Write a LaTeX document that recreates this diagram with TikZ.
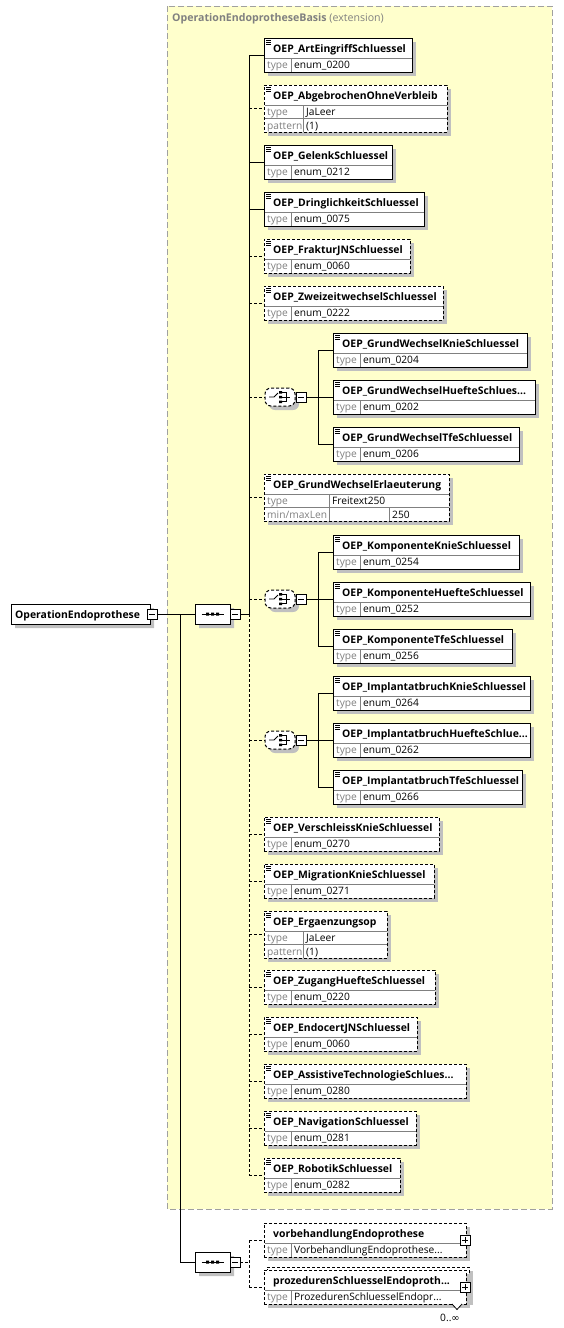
\documentclass[tikz,border=0pt]{standalone}
\usepackage{fontspec}
\setmainfont{Open Sans}
\newfontfamily\dvs{DejaVu Sans}
\usetikzlibrary{shapes.misc,shadows}
\definecolor{ylw}{HTML}{FFFFCC}
\definecolor{shd}{HTML}{C0C0C0}
\definecolor{lblc}{HTML}{808080}
\definecolor{frm}{HTML}{A0A0A0}
\newcommand\ttlfont{\fontsize{10.4}{13}\selectfont\bfseries}
\newcommand\valfont{\fontsize{10.2}{12}\selectfont}
\tikzset{
  shdw/.style={drop shadow={shadow xshift=4pt,shadow yshift=-4pt,fill=shd,opacity=1}},
  ebox/.style={draw,fill=white,line width=1pt,inner sep=0pt,outer sep=0pt,anchor=north west,shape=rectangle,shdw},
  optd/.style={dash pattern=on 3pt off 2pt},
  conn/.style={line width=1pt},
  optc/.style={line width=1pt,dash pattern=on 3pt off 2pt},
  sepl/.style={draw=lblc,line width=0.8pt},
  icn/.style={line width=0.7pt},
  ttl/.style={anchor=base west,inner sep=0pt,font=\ttlfont},
  lbl/.style={anchor=base west,inner sep=0pt,font=\valfont,text=lblc},
  vall/.style={anchor=base west,inner sep=0pt,font=\valfont},
  mbox/.style={draw,fill=white,line width=0.8pt,minimum size=10pt,inner sep=0pt,outer sep=0pt,shape=rectangle},
  chs/.style={draw,fill=white,line width=1pt,optd,shape=rectangle,rounded corners=6pt,minimum width=30pt,minimum height=18pt,inner sep=0pt,outer sep=0pt,shdw},
  seqs/.style={draw,fill=white,line width=1pt,shape=chamfered rectangle,chamfered rectangle xsep=4pt,chamfered rectangle ysep=4pt,minimum width=35pt,minimum height=20pt,inner sep=0pt,outer sep=0pt,shdw},
}
% #1 name #2 left #3 top #4 right #5 style #6 title #7 type #8 icon
\newcommand\elemtwo[8]{%
  \pgfmathsetmacro\ew{#4-#2}%
  \node[ebox,#5,minimum width=\ew pt,minimum height=34pt] (#1) at (#2,#3) {};
  \coordinate (#1-in) at (#2,#3+17);
  \draw[sepl] (#2+0.5,#3+20) -- (#4-0.5,#3+20) (#2+27,#3+20) -- (#2+27,#3+33.5);
  \node[ttl] at (#2+9,#3+14) {#6};
  \node[lbl] at (#2+3,#3+30.5) {type};
  \node[vall] at (#2+30,#3+30.5) {#7};
  \ifnum#8=1 \draw[icn] (#2+2,#3+2) -- (#2+7,#3+2) (#2+2,#3+4) -- (#2+7,#3+4) (#2+2,#3+6) -- (#2+7,#3+6);\fi
}
% #1 name #2 left #3 top #4 right #5 title #6 type #7 label2 #8 val2 #9 divx
\newcommand\elemthree[9]{%
  \pgfmathsetmacro\ew{#4-#2}%
  \node[ebox,optd,minimum width=\ew pt,minimum height=47pt] (#1) at (#2,#3) {};
  \coordinate (#1-in) at (#2,#3+23.5);
  \draw[sepl] (#2+0.5,#3+20) -- (#4-0.5,#3+20) (#2+0.5,#3+33.5) -- (#4-0.5,#3+33.5) (#2+#9,#3+20) -- (#2+#9,#3+46.5);
  \node[ttl] at (#2+9,#3+14) {#5};
  \node[lbl] at (#2+3,#3+30.5) {type};
  \node[vall] at (#2+#9+3,#3+30.5) {#6};
  \node[lbl] at (#2+3,#3+44) {#7};
  \node[vall] at (#2+#9+3,#3+44) {#8};
  \draw[icn] (#2+2,#3+2) -- (#2+7,#3+2) (#2+2,#3+4) -- (#2+7,#3+4) (#2+2,#3+6) -- (#2+7,#3+6);
}
% #1 name #2 left #3 center y
\newcommand\choicenode[3]{%
  \node[chs] (#1) at (#2+15,#3) {};
  \draw[icn,line width=0.9pt] ([xshift=-11pt]#1.center) -- ([xshift=-6pt]#1.center) -- ([xshift=-2pt,yshift=4pt]#1.center);
  \fill ([xshift=-1pt,yshift=3.5pt]#1.center) rectangle ([xshift=2pt,yshift=6pt]#1.center)
        ([xshift=-1pt,yshift=-1.25pt]#1.center) rectangle ([xshift=2pt,yshift=1.25pt]#1.center)
        ([xshift=-1pt,yshift=-6pt]#1.center) rectangle ([xshift=2pt,yshift=-3.5pt]#1.center);
  \draw[icn,line width=0.9pt] ([xshift=2pt,yshift=4.75pt]#1.center) -- ([xshift=6pt,yshift=4.75pt]#1.center) -- ([xshift=6pt,yshift=-4.75pt]#1.center) -- ([xshift=2pt,yshift=-4.75pt]#1.center)
        ([xshift=2pt]#1.center) -- ([xshift=10pt]#1.center);
  \node[mbox] (#1m) at (#2+36,#3) {};
  \draw[line width=0.8pt] ([xshift=2pt]#1m.west) -- ([xshift=-2pt]#1m.east);
}
\newcommand\seqnode[3]{%
  \node[seqs] (#1) at (#2,#3) {};
  \draw[line width=1pt] ([xshift=-11pt]#1.center) -- ([xshift=11pt]#1.center);
  \fill ([xshift=-6.5pt,yshift=-1.5pt]#1.center) rectangle ([xshift=-3.5pt,yshift=1.5pt]#1.center)
        ([xshift=-1.5pt,yshift=-1.5pt]#1.center) rectangle ([xshift=1.5pt,yshift=1.5pt]#1.center)
        ([xshift=3.5pt,yshift=-1.5pt]#1.center) rectangle ([xshift=6.5pt,yshift=1.5pt]#1.center);
  \node[mbox] (#1m) at (#2+22.5,#3) {};
  \draw[line width=0.8pt] ([xshift=2pt]#1m.west) -- ([xshift=-2pt]#1m.east);
}
\begin{document}
\begin{tikzpicture}[x=1pt,y=-1pt]
\useasboundingbox (0,0) rectangle (563,1328);
\fill[white] (0,0) rectangle (563,1328);
% extension frame
\draw[frm,fill=ylw,line width=1pt,dash pattern=on 6pt off 3pt] (167,6) rectangle (552,1209);
\node[anchor=base west,inner sep=0pt,text=lblc,font=\fontsize{10.6}{13}\selectfont] (ext) at (172,21) {\textbf{OperationEndoprotheseBasis} (extension)};
% root
\node[draw,fill=white,line width=1pt,shape=chamfered rectangle,chamfered rectangle xsep=3pt,chamfered rectangle ysep=3pt,minimum width=139pt,minimum height=20pt,inner sep=0pt,shdw] (root) at (80.5,614) {};
\node[ttl] at (15,618) {OperationEndoprothese};
\node[mbox] (rootm) at (152,614) {};
\draw[line width=0.8pt] ([xshift=2pt]rootm.west) -- ([xshift=-2pt]rootm.east);
% sequences
\seqnode{seq1}{212.5}{614}
\seqnode{seq2}{212.5}{1262}
% elements main column
\elemtwo{e1}{264}{38}{412}{}{OEP\_ArtEingriffSchluessel}{enum\_0200}{1}
\elemthree{e2}{264}{85}{447}{OEP\_AbgebrochenOhneVerbleib}{JaLeer}{pattern}{(1)}{39}
\elemtwo{e3}{264}{145}{392}{}{OEP\_GelenkSchluessel}{enum\_0212}{1}
\elemtwo{e4}{264}{192}{424}{}{OEP\_DringlichkeitSchluessel}{enum\_0075}{1}
\elemtwo{e5}{264}{239}{410}{optd}{OEP\_FrakturJNSchluessel}{enum\_0060}{1}
\elemtwo{e6}{264}{286}{443}{optd}{OEP\_ZweizeitwechselSchluessel}{enum\_0222}{1}
\choicenode{ch1}{265}{397}
\elemtwo{c1a}{333}{333}{527}{}{OEP\_GrundWechselKnieSchluessel}{enum\_0204}{1}
\elemtwo{c1b}{333}{380}{535}{}{OEP\_GrundWechselHuefteSchlues...}{enum\_0202}{1}
\elemtwo{c1c}{333}{427}{519}{}{OEP\_GrundWechselTfeSchluessel}{enum\_0206}{1}
\elemthree{e7}{264}{474}{449}{OEP\_GrundWechselErlaeuterung}{Freitext250}{min/maxLen}{}{65}
\draw[sepl] (389,507.5) -- (389,520.5);
\node[vall] at (392,518) {250};
\choicenode{ch2}{265}{599}
\elemtwo{c2a}{333}{535}{519}{}{OEP\_KomponenteKnieSchluessel}{enum\_0254}{1}
\elemtwo{c2b}{333}{582}{530}{}{OEP\_KomponenteHuefteSchluessel}{enum\_0252}{1}
\elemtwo{c2c}{333}{629}{512}{}{OEP\_KomponenteTfeSchluessel}{enum\_0256}{1}
\choicenode{ch3}{265}{740}
\elemtwo{c3a}{333}{676}{530}{}{OEP\_ImplantatbruchKnieSchluessel}{enum\_0264}{1}
\elemtwo{c3b}{333}{723}{530}{}{OEP\_ImplantatbruchHuefteSchlue...}{enum\_0262}{1}
\elemtwo{c3c}{333}{770}{522}{}{OEP\_ImplantatbruchTfeSchluessel}{enum\_0266}{1}
\elemtwo{e8}{264}{817}{439}{optd}{OEP\_VerschleissKnieSchluessel}{enum\_0270}{1}
\elemtwo{e9}{264}{864}{434}{optd}{OEP\_MigrationKnieSchluessel}{enum\_0271}{1}
\elemthree{e10}{264}{911}{387}{OEP\_Ergaenzungsop}{JaLeer}{pattern}{(1)}{39}
\elemtwo{e11}{264}{970}{435}{optd}{OEP\_ZugangHuefteSchluessel}{enum\_0220}{1}
\elemtwo{e12}{264}{1017}{417}{optd}{OEP\_EndocertJNSchluessel}{enum\_0060}{1}
\elemtwo{e13}{264}{1064}{466}{optd}{OEP\_AssistiveTechnologieSchlues...}{enum\_0280}{1}
\elemtwo{e14}{264}{1111}{416}{optd}{OEP\_NavigationSchluessel}{enum\_0281}{1}
\elemtwo{e15}{264}{1158}{400}{optd}{OEP\_RobotikSchluessel}{enum\_0282}{1}
% bottom elements
\elemtwo{vb}{264}{1223}{466}{optd}{vorbehandlungEndoprothese}{VorbehandlungEndoprothese...}{0}
\node[mbox] (vbp) at (465,1240) {};
\draw[line width=0.8pt] ([xshift=2pt]vbp.west) -- ([xshift=-2pt]vbp.east) ([yshift=2pt]vbp.south) -- ([yshift=-2pt]vbp.north);
\node[ebox,optd,minimum width=202pt,minimum height=34pt] (pzb) at (267,1267) {};
\elemtwo{pz}{264}{1270}{466}{optd}{prozedurenSchluesselEndoproth...}{ProzedurenSchluesselEndopr...}{0}
\node[mbox] (pzp) at (465,1287) {};
\draw[line width=0.8pt] ([xshift=2pt]pzp.west) -- ([xshift=-2pt]pzp.east) ([yshift=2pt]pzp.south) -- ([yshift=-2pt]pzp.north);
\draw[line width=0.8pt,fill=white] (452,1304) -- (457,1309.5) -- (462,1304);
\node[anchor=base east,inner sep=0pt,font=\valfont] (occ) at (460,1321) {0..{\dvs\fontsize{10}{12}\selectfont ∞}};
% connectors
\coordinate (bx) at (249,0);
\draw[conn] (rootm.east) -- (seq1.west);
\coordinate (j1) at (180,614);
\draw[conn] (j1) |- (seq2.west);
\draw[conn] (seq1m.east) -- (bx |- seq1m.east);
\draw[conn] (bx |- e1-in) -- (bx |- seq1m.east);
\draw[optc] (bx |- seq1m.east) -- (bx |- e15-in);
\foreach \n in {e1,e3,e4} \draw[conn] (bx |- \n-in) -- (\n-in);
\foreach \n in {e2,e5,e6,e7,e8,e9,e10,e11,e12,e13,e14,e15} \draw[optc] (bx |- \n-in) -- (\n-in);
\foreach \n in {ch1,ch2,ch3} \draw[optc] (bx |- \n.west) -- (\n.west);
\foreach \c/\a/\b/\d in {ch1/c1a/c1b/c1c,ch2/c2a/c2b/c2c,ch3/c3a/c3b/c3c} {
  \coordinate (s-\c) at (318,0);
  \draw[conn] (\c m.east) -- (s-\c |- \c m.east);
  \draw[conn] (s-\c |- \a-in) -- (s-\c |- \d-in);
  \draw[conn] (s-\c |- \a-in) -- (\a-in);
  \draw[conn] (s-\c |- \b-in) -- (\b-in);
  \draw[conn] (s-\c |- \d-in) -- (\d-in);
}
\draw[optc] (seq2m.east) -- (bx |- seq2m.east);
\draw[optc] (bx |- vb-in) -- (bx |- pz-in);
\draw[optc] (bx |- vb-in) -- (vb-in);
\draw[optc] (bx |- pz-in) -- (pz-in);
\end{tikzpicture}
\end{document}
